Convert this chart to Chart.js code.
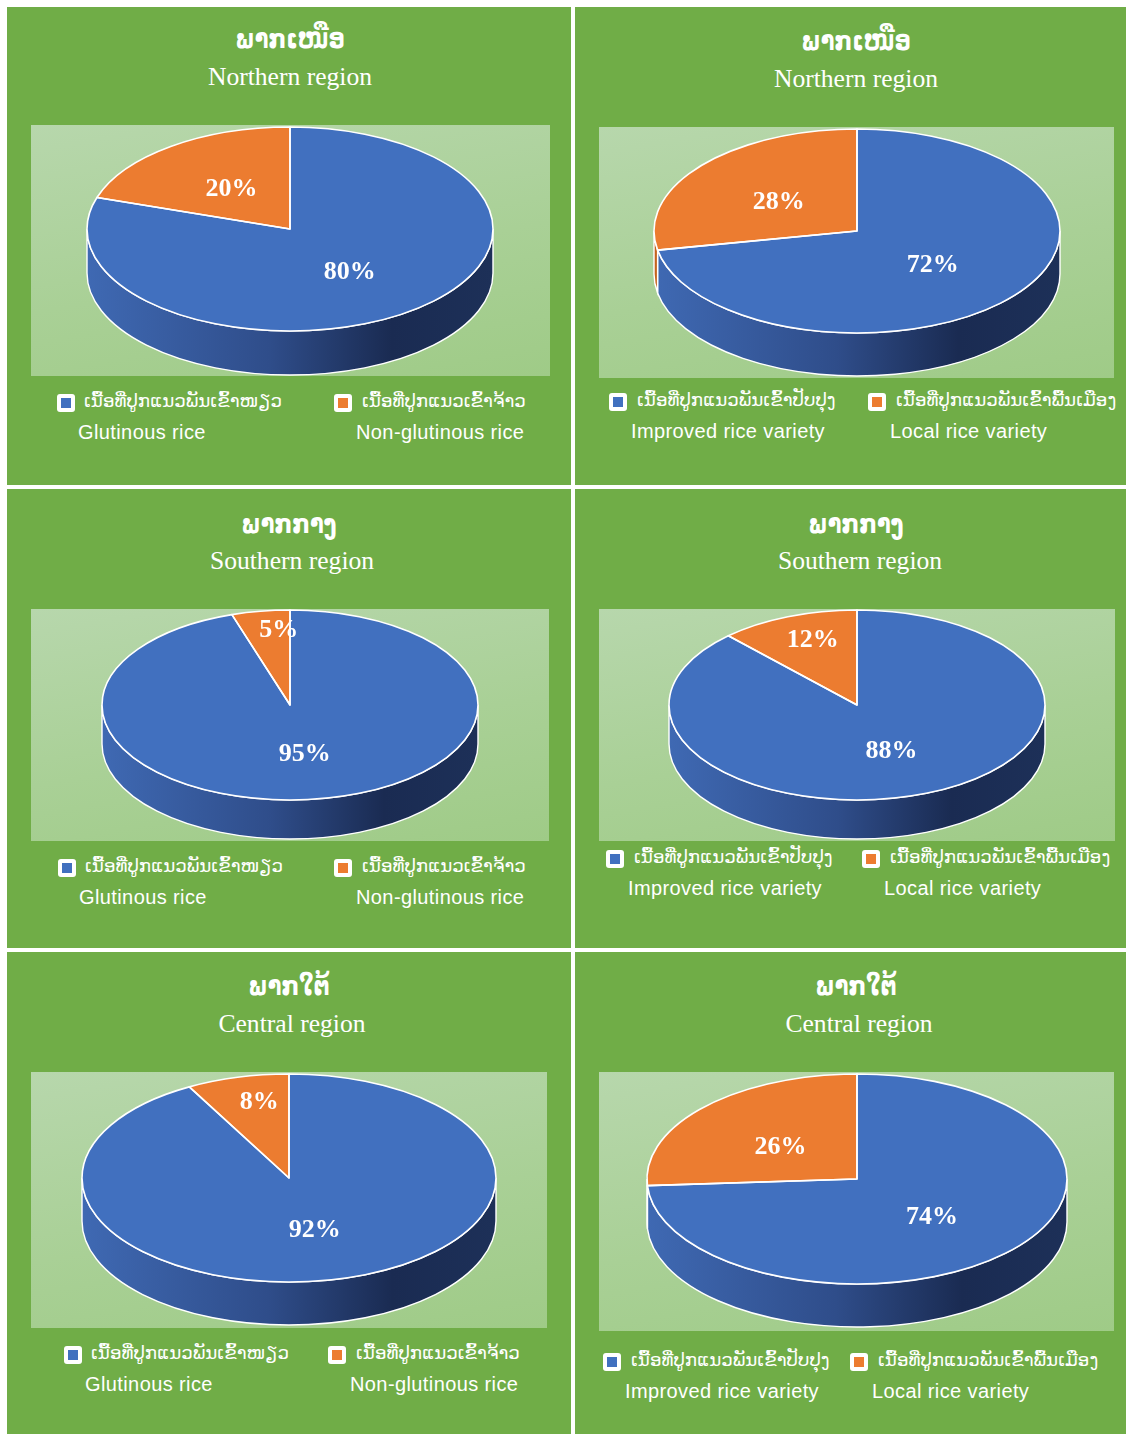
<!DOCTYPE html>
<html><head><meta charset="utf-8">
<script src="https://cdn.jsdelivr.net/npm/chart.js@4"></script>
<style>
html,body{margin:0;padding:0;background:#fff;width:1126px;height:1434px;overflow:hidden}
.panel{position:absolute;background:#70ad47}
canvas{position:absolute;background:linear-gradient(170deg,#b7d7ac 0%,#a9d096 55%,#9fcb87 100%)}
.t{position:absolute;color:#fff;white-space:nowrap;line-height:1;transform:translate(0,-50%)}
.c{transform:translate(-50%,-50%)}
.lao{font-family:"DejaVu Serif","DejaVu Sans","Noto Sans",serif;font-weight:bold;font-size:22.5px;transform:translate(-50%,-50%) scaleY(1.2)}
.eng{font-family:"Liberation Serif",serif;font-size:25.6px}
.ll{font-family:"DejaVu Sans","Noto Sans",sans-serif;font-size:18.3px}
.le{font-family:"Liberation Sans",sans-serif;font-size:20px;letter-spacing:.4px}
.sw{position:absolute;width:18px;height:18px;background:#fff;border-radius:3px}
.sw i{position:absolute;left:4px;top:4px;width:10px;height:10px;display:block}
</style></head><body>
<script>
// ---- values (percent) ----
const northGlutinous = [80, 20];
const northVariety   = [72, 28];
const southGlutinous = [95, 5];
const southVariety   = [88, 12];
const centralGlutinous = [92, 8];
const centralVariety   = [74, 26];
// ---- text ----
const titleLao = { north: "ພາກເໜືອ", south: "ພາກກາງ", central: "ພາກໃຕ້" };
const titleEng = { north: "Northern region", south: "Southern region", central: "Central region" };
const glutinousLao = ["ເນື້ອທີ່ປູກແນວພັນເຂົ້າໜຽວ", "ເນື້ອທີ່ປູກແນວເຂົ້າຈ້າວ"];
const glutinousEng = ["Glutinous rice", "Non-glutinous rice"];
const varietyLao = ["ເນື້ອທີ່ປູກແນວພັນເຂົ້າປັບປຸງ", "ເນື້ອທີ່ປູກແນວພັນເຂົ້າພື້ນເມືອງ"];
const varietyEng = ["Improved rice variety", "Local rice variety"];
// ---- colours ----
const sliceColors = ["#4170bf", "#ec7c30"];
const wallStops = [
  [[0,"#3f69b3"],[.45,"#2f4d8a"],[.75,"#1a2b52"],[1,"#1d3058"]],
  [[0,"#c5641f"],[.5,"#a8551b"],[1,"#6f3a12"]]
];
// ---- layout ----
const panels = [
 {rect:[7,7,564,478],  plot:[31,125,519,251], c:[290,229], rx:203, ry:102, d:44, vals:northGlutinous, lao:glutinousLao, eng:glutinousEng, k:"north",
  tl:[290,39], te:[290,76.5], sw:[57,334], swY:403, laoX:[84,362], laoY:401, engX:[78,356], engY:432, pull:[[.5,.5],[.49,.5]]},
 {rect:[575,7,551,478], plot:[599,127,515,251], c:[857,231], rx:203, ry:102, d:43, vals:northVariety, lao:varietyLao, eng:varietyEng, k:"north",
  tl:[856,41], te:[856,78.5], sw:[609,868], swY:402, laoX:[637,896], laoY:400, engX:[631,890], engY:431, pull:[[.485,.5],[.5,.47]]},
 {rect:[7,489,564,459], plot:[31,609,518,232], c:[290,705], rx:188, ry:95, d:39, vals:southGlutinous, lao:glutinousLao, eng:glutinousEng, k:"south",
  tl:[289,524], te:[292,560.5], sw:[58,334], swY:868, laoX:[85,362], laoY:866, engX:[79,356], engY:897, pull:[[.5,.5],[.38,.82]]},
 {rect:[575,489,551,459], plot:[599,609,516,232], c:[857,705], rx:188, ry:95, d:39, vals:southVariety, lao:varietyLao, eng:varietyEng, k:"south",
  tl:[856,524], te:[860,560.5], sw:[606,862], swY:859, laoX:[634,890], laoY:857, engX:[628,884], engY:888, pull:[[.5,.5],[.64,.76]]},
 {rect:[7,952,564,482], plot:[31,1072,516,256], c:[289,1178], rx:207, ry:104, d:43, vals:centralGlutinous, lao:glutinousLao, eng:glutinousEng, k:"central",
  tl:[289,986], te:[292,1023.5], sw:[64,328], swY:1355, laoX:[91,356], laoY:1353, engX:[85,350], engY:1384, pull:[[.5,.5],[.58,.77]]},
 {rect:[575,952,551,482], plot:[599,1072,515,259], c:[857,1179], rx:210, ry:105, d:43, vals:centralVariety, lao:varietyLao, eng:varietyEng, k:"central",
  tl:[856,986], te:[859,1023.5], sw:[603,850], swY:1362, laoX:[631,878], laoY:1360, engX:[625,872], engY:1391, pull:[[.49,.5],[.5,.47]]}
];
function el(tag,cls,css,text,parent){const e=document.createElement(tag);if(cls)e.className=cls;Object.assign(e.style,css||{});if(text!=null)e.textContent=text;(parent||document.body).appendChild(e);return e;}
Chart.defaults.animation=false;
const pie3d={id:"pie3d",
 beforeDatasetsDraw(ch,a,o){
  const ctx=ch.ctx,arcs=ch.getDatasetMeta(0).data;
  const cx=arcs[0].x,cy=arcs[0].y,rx=arcs[0].outerRadius,ry=o.ry,d=o.d;
  const TAU=Math.PI*2;
  arcs.forEach((arc,i)=>{
   [0,TAU,-TAU].forEach(sh=>{
    const s=Math.max(arc.startAngle+sh,0),e=Math.min(arc.endAngle+sh,Math.PI);
    if(e<=s)return;
    const g=ctx.createLinearGradient(cx-rx,0,cx+rx,0);
    wallStops[i].forEach(p=>g.addColorStop(p[0],p[1]));
    ctx.beginPath();
    ctx.ellipse(cx,cy,rx,ry,0,s,e);
    ctx.ellipse(cx,cy+d,rx,ry,0,e,s,true);
    ctx.closePath();
    ctx.fillStyle=g;ctx.fill();
    ctx.strokeStyle="#fff";ctx.lineWidth=1.4;ctx.stroke();
   });
  });
  ctx.save();
  ctx.translate(cx,cy);ctx.scale(1,ry/rx);ctx.translate(-cx,-cy);
 },
 afterDatasetsDraw(ch,a,o){
  const ctx=ch.ctx,arcs=ch.getDatasetMeta(0).data;
  ctx.restore();
  const cx=arcs[0].x,cy=arcs[0].y,rx=arcs[0].outerRadius,ry=o.ry;
  arcs.forEach(arc=>{
   ctx.beginPath();ctx.moveTo(cx,cy);
   ctx.ellipse(cx,cy,rx,ry,0,arc.startAngle,arc.endAngle);
   ctx.closePath();ctx.strokeStyle="#fff";ctx.lineWidth=1.6;ctx.lineJoin="round";ctx.stroke();
  });
  ctx.font='bold 26px "Liberation Serif",serif';ctx.fillStyle="#fff";ctx.textAlign="center";ctx.textBaseline="middle";
  arcs.forEach((arc,i)=>{
   const m=(arc.startAngle+arc.endAngle)/2;
   ctx.fillText(ch.data.datasets[0].data[i]+"%",cx+Math.cos(m)*rx*o.pull[i][0],cy+Math.sin(m)*ry*o.pull[i][1]+2);
  });
 }};
panels.forEach(p=>{
 const [x,y,w,h]=p.rect;
 el("div","panel",{left:x+"px",top:y+"px",width:w+"px",height:h+"px"});
 const [px,py,pw,ph]=p.plot;
 const cv=el("canvas","",{left:px+"px",top:py+"px"});
 cv.width=pw;cv.height=ph;cv.style.width=pw+"px";cv.style.height=ph+"px";
 const lx=p.c[0]-px,ly=p.c[1]-py;
 new Chart(cv,{type:"pie",plugins:[pie3d],
  data:{labels:p.eng,datasets:[{data:p.vals,backgroundColor:sliceColors,borderWidth:0,radius:p.rx,clip:false}]},
  options:{responsive:false,maintainAspectRatio:false,
   layout:{padding:{left:Math.max(0,2*lx-pw),right:Math.max(0,pw-2*lx),top:Math.max(0,2*ly-ph),bottom:Math.max(0,ph-2*ly)}},
   plugins:{legend:{display:false},tooltip:{enabled:false},title:{display:false},pie3d:{ry:p.ry,d:p.d,pull:p.pull}}}});
 el("div","t lao",{left:p.tl[0]+"px",top:p.tl[1]+"px"},titleLao[p.k]);
 el("div","t c eng",{left:p.te[0]+"px",top:p.te[1]+"px"},titleEng[p.k]);
 [0,1].forEach(i=>{
  const s=el("div","sw",{left:p.sw[i]+"px",top:(p.swY-9)+"px"});
  el("i","",{background:sliceColors[i]},null,s);
  el("div","t ll",{left:p.laoX[i]+"px",top:p.laoY+"px"},p.lao[i]);
  el("div","t le",{left:p.engX[i]+"px",top:p.engY+"px"},p.eng[i]);
 });
});
</script>
</body></html>
